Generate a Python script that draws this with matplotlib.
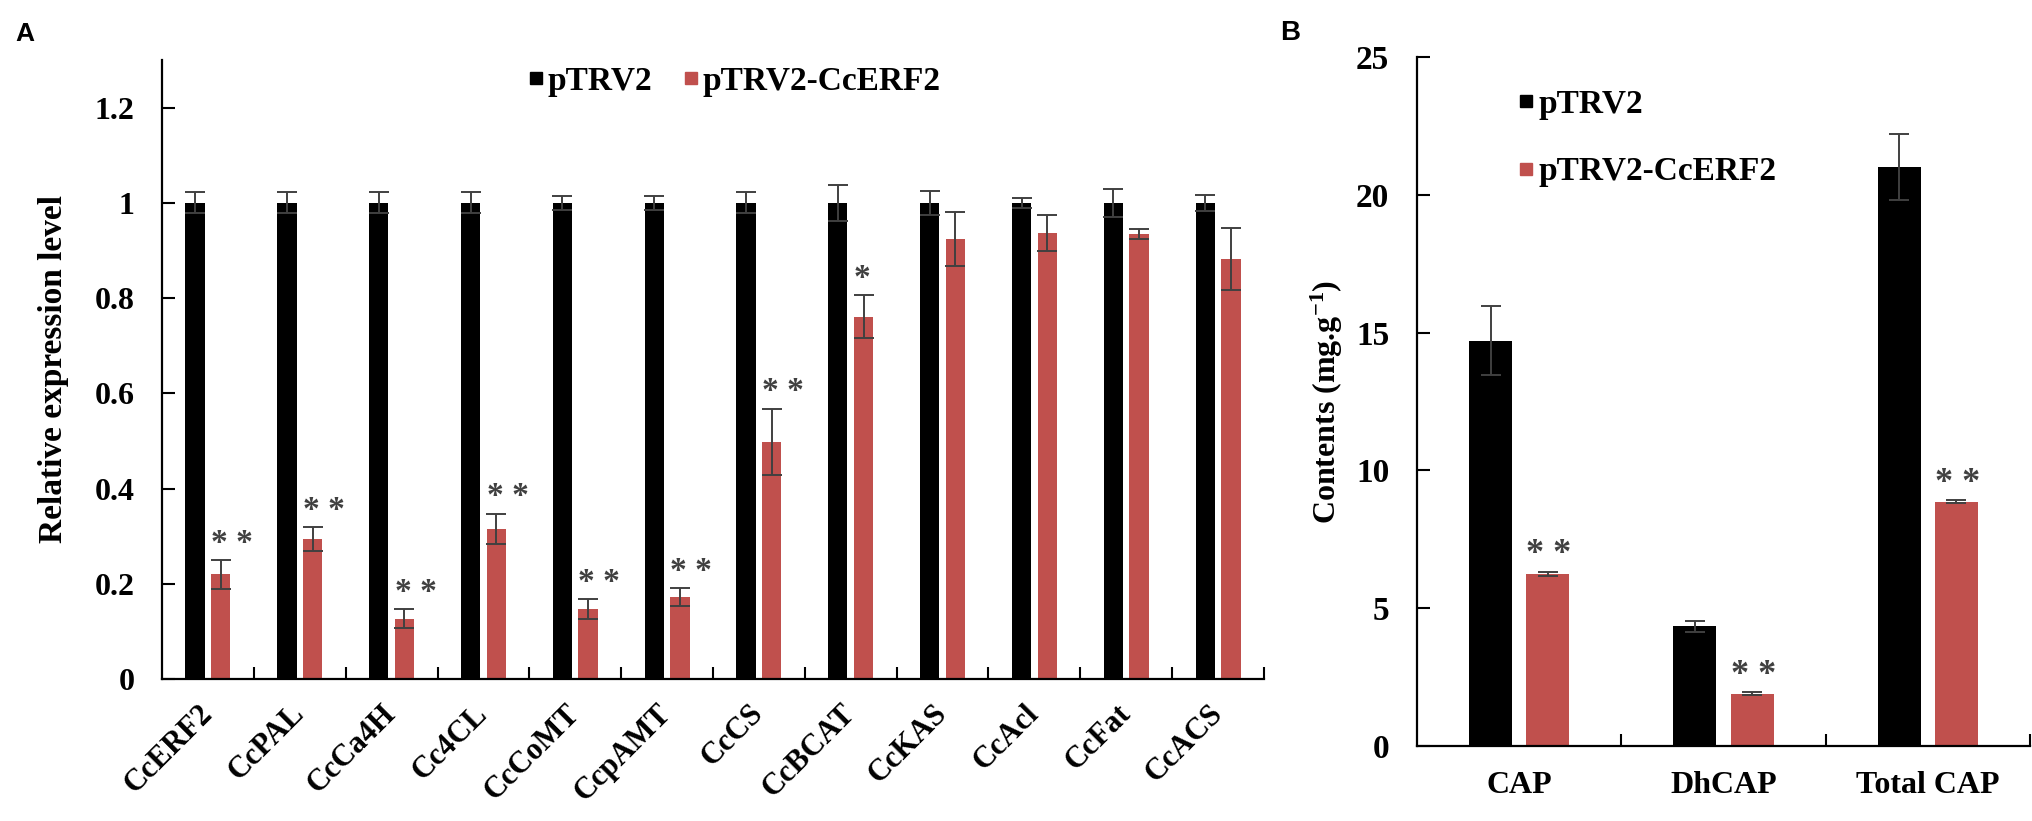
import numpy as np
import matplotlib.pyplot as plt
from matplotlib.lines import Line2D

plt.rcParams['font.family'] = ['Liberation Serif', 'DejaVu Serif']
plt.rcParams['font.weight'] = 'bold'
plt.rcParams['axes.labelweight'] = 'bold'
plt.rcParams['mathtext.default'] = 'regular'

# panel A: relative expression
genes = ['CcERF2', 'CcPAL', 'CcCa4H', 'Cc4CL', 'CcCoMT', 'CcpAMT',
         'CcCS', 'CcBCAT', 'CcKAS', 'CcAcl', 'CcFat', 'CcACS']
ctrl_a = [1.0, 1.0, 1.0, 1.0, 1.0, 1.0, 1.0, 1.0, 1.0, 1.0, 1.0, 1.0]
ctrl_a_err = [0.022, 0.022, 0.022, 0.022, 0.015, 0.015, 0.022, 0.038, 0.025, 0.01, 0.03, 0.017]
vigs_a = [0.22, 0.294, 0.126, 0.315, 0.147, 0.172, 0.498, 0.761, 0.924, 0.937, 0.935, 0.882]
vigs_a_err = [0.03, 0.025, 0.02, 0.032, 0.02, 0.019, 0.07, 0.045, 0.057, 0.038, 0.011, 0.066]
sig_a = ['* *', '* *', '* *', '* *', '* *', '* *', '* *', '*', '', '', '', '']

# panel B: capsaicinoid contents
compounds = ['CAP', 'DhCAP', 'Total CAP']
ctrl_b = [14.7, 4.35, 21.0]
ctrl_b_err = [1.25, 0.2, 1.2]
vigs_b = [6.25, 1.9, 8.86]
vigs_b_err = [0.07, 0.05, 0.05]
sig_b = ['* *', '* *', '* *']

RED = '#c0504d'
ERR = '#404040'


def draw(ax, cats, c, ce, t, te, sig, star_fs):
    x = np.arange(len(cats))
    w = 0.21
    off = 0.14
    ax.bar(x - off, c, w, color='black', zorder=2)
    ax.bar(x + off, t, w, color=RED, zorder=2)
    ax.errorbar(x - off, c, yerr=ce, fmt='none', ecolor=ERR, elinewidth=1.4,
                capsize=7, capthick=1.4, zorder=3)
    ax.errorbar(x + off, t, yerr=te, fmt='none', ecolor=ERR, elinewidth=1.4,
                capsize=7, capthick=1.4, zorder=3)
    for xi, yi, ei, s in zip(x, t, te, sig):
        if s:
            ax.annotate(s, (xi + off - w / 2, yi + ei), xytext=(0, 6),
                        textcoords='offset points', ha='left', va='baseline',
                        fontsize=star_fs, color=ERR, weight='bold')
    for side in ['top', 'right']:
        ax.spines[side].set_visible(False)
    for side in ['left', 'bottom']:
        ax.spines[side].set_linewidth(1.6)
    ax.set_xlim(-0.5, len(cats) - 0.5)
    ax.set_xticks(x)
    ax.set_xticks(np.arange(0.5, len(cats), 1), minor=True)
    ax.tick_params(axis='x', which='major', length=0)
    ax.tick_params(axis='x', which='minor', direction='in', length=9, width=1.5)
    ax.tick_params(axis='y', direction='in', length=9, width=1.5)


fig = plt.figure(figsize=(20.33, 8.21), dpi=100)
ax1 = fig.add_axes([0.0797, 0.1730, 0.5420, 0.7539])
ax2 = fig.add_axes([0.6970, 0.0914, 0.3015, 0.8392])

draw(ax1, genes, ctrl_a, ctrl_a_err, vigs_a, vigs_a_err, sig_a, 24)
ax1.set_ylim(0, 1.3)
ax1.set_yticks([0, 0.2, 0.4, 0.6, 0.8, 1.0, 1.2])
ax1.set_yticklabels(['0', '0.2', '0.4', '0.6', '0.8', '1', '1.2'], fontsize=23)
ax1.tick_params(axis='y', pad=20)
ax1.set_xticklabels(genes, fontsize=22, rotation=45, ha='right', va='center',
                    rotation_mode='anchor')
ax1.tick_params(axis='x', which='major', pad=22)
ax1.set_ylabel('Relative expression level', fontsize=24, labelpad=18)

draw(ax2, compounds, ctrl_b, ctrl_b_err, vigs_b, vigs_b_err, sig_b, 26)
ax2.set_ylim(0, 25)
ax2.set_yticks([0, 5, 10, 15, 20, 25])
ax2.set_yticklabels(['0', '5', '10', '15', '20', '25'], fontsize=24)
ax2.tick_params(axis='y', pad=20)
ax2.set_xticklabels(compounds, fontsize=23)
ax2.tick_params(axis='x', which='major', pad=18)
ax2.set_ylabel('Contents (mg.g$^{-1}$)', fontsize=23, labelpad=8)

handles = [Line2D([], [], marker='s', ls='none', color='black', markersize=9),
           Line2D([], [], marker='s', ls='none', color=RED, markersize=9)]
labels = ['pTRV2', 'pTRV2-CcERF2']
ax1.legend(handles, labels, ncol=2, loc='center', bbox_to_anchor=(0.519, 0.966),
           frameon=False, fontsize=24, handlelength=0.5, handletextpad=0.1,
           columnspacing=0.9, borderpad=0, borderaxespad=0)
ax2.legend(handles, labels, loc='upper left', bbox_to_anchor=(0.165, 0.954),
           frameon=False, fontsize=24, handlelength=0.5, handletextpad=0.1,
           labelspacing=1.1, borderpad=0, borderaxespad=0)

fig.text(15 / 2033, 1 - 34 / 821, 'A', family='Liberation Sans', weight='bold',
         fontsize=19, va='center', ha='left')
fig.text(1280 / 2033, 1 - 33 / 821, 'B', family='Liberation Sans', weight='bold',
         fontsize=20, va='center', ha='left')

fig.savefig('out.png', dpi=100)
